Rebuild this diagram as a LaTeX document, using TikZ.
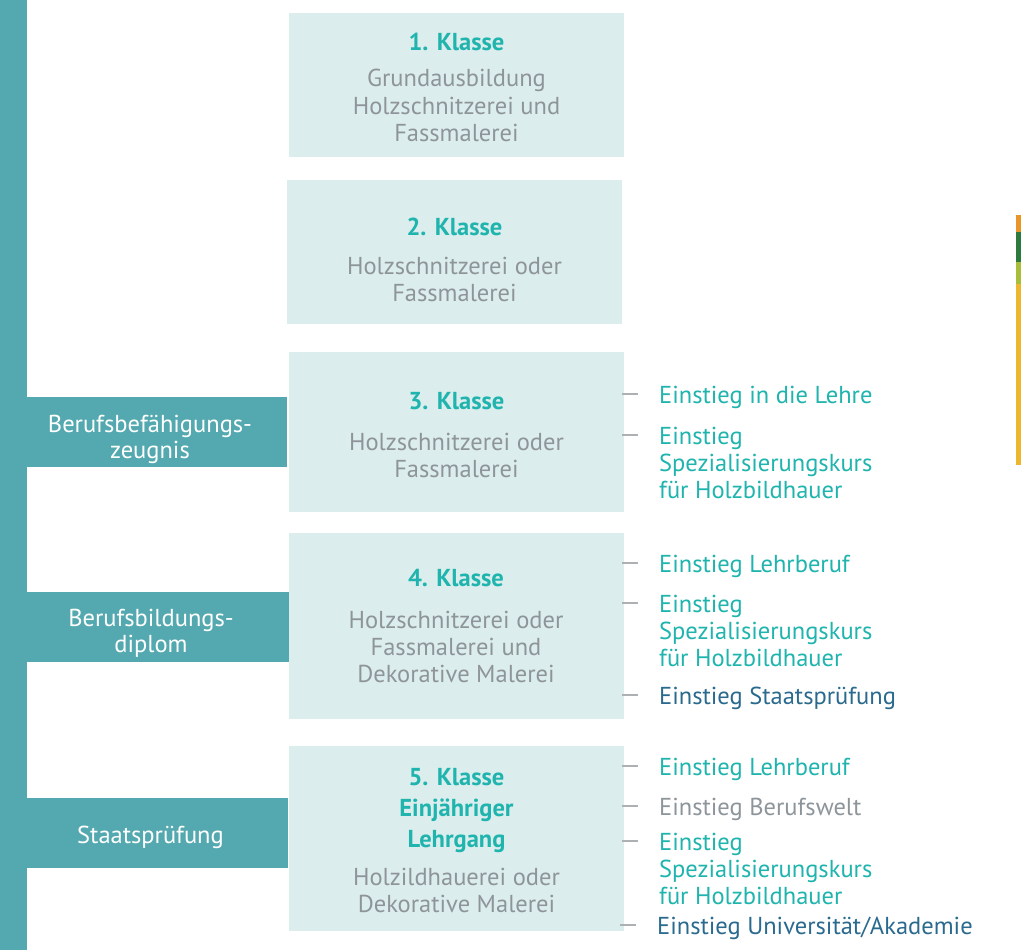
\documentclass[tikz,border=0pt]{standalone}
\usepackage{fontspec}
\setmainfont{PT Sans}
\usepackage{tikz}
\usetikzlibrary{calc,positioning}

\definecolor{balken}{HTML}{53A9AF}
\definecolor{kasten}{HTML}{DCEDED}
\definecolor{tuerkis}{HTML}{1FB4AD}
\definecolor{grau}{HTML}{8E959A}
\definecolor{dunkelblau}{HTML}{2A6A8E}
\definecolor{strichgrau}{HTML}{AEB1B3}
\definecolor{streifenA}{HTML}{E8962A}
\definecolor{streifenB}{HTML}{2E7A3E}
\definecolor{streifenC}{HTML}{A8BE3A}
\definecolor{streifenD}{HTML}{ECB72C}

\newcommand{\schrift}{\fontsize{24.5}{27}\selectfont}
\newcommand{\titel}[1]{\textbf{\textcolor{tuerkis}{#1}}}

\begin{document}
\begin{tikzpicture}[x=1pt,y=1pt,
    every node/.style={inner sep=0pt},
    klasse/.style={fill=kasten,minimum width=335},
    klassentext/.style={align=center,text=grau,font=\schrift},
    stufe/.style={fill=balken,minimum width=260,minimum height=70},
    stufentext/.style={align=center,text=white,font=\schrift},
    eintrag/.style={anchor=north west,align=left,text=tuerkis,font=\schrift},
    strich/.style={draw=strichgrau,line width=1.5pt}]

    \useasboundingbox (0,0) rectangle (1021,-950);
    \fill[white] (0,0) rectangle (1021,-950);

    % linker Balken
    \fill[balken] (0,0) rectangle (27,-950);

    % Klassen
    \node[klasse,minimum height=144] (k1) at (456.5,-85) {};
    \node[klasse,minimum height=144] (k2) at (454.5,-252) {};
    \node[klasse,minimum height=160] (k3) at (456.5,-432) {};
    \node[klasse,minimum height=186] (k4) at (456,-626) {};
    \node[klasse,minimum height=185] (k5) at (456.5,-838.5) {};

    \node[klassentext] (t1) at ([yshift=-2]k1.center)
        {\titel{1. Klasse}\\[9pt] Grundausbildung\\[1pt] Holzschnitzerei und\\ Fassmalerei};
    \node[klassentext] (t2) at ([yshift=-8]k2.center)
        {\titel{2. Klasse}\\[12pt] Holzschnitzerei oder\\ Fassmalerei};
    \node[klassentext] (t3) at ([yshift=-3.5]k3.center)
        {\titel{3. Klasse}\\[14pt] Holzschnitzerei oder\\ Fassmalerei};
    \node[klassentext] (t4) at (k4.center)
        {\titel{4. Klasse}\\[15pt] Holzschnitzerei oder\\ Fassmalerei und\\ Dekorative Malerei};
    \node[klassentext] (t5) at ([yshift=-2]k5.center)
        {\titel{5. Klasse}\\[4pt] \titel{Einjähriger}\\[4pt] \titel{Lehrgang}\\[11pt] Holzildhauerei oder\\ Dekorative Malerei};

    % Abschluesse
    \node[stufe] (s3) at (157,-432) {};
    \node[stufe,minimum width=262] (s4) at (158,-627) {};
    \node[stufe,minimum width=261] (s5) at (157.5,-833) {};

    \node[stufentext] (u3) at ([shift={(-7,-7)}]s3.center) {Berufsbefähigungs-\\[-1pt] zeugnis};
    \node[stufentext] (u4) at ([shift={(-7,-6)}]s4.center) {Berufsbildungs-\\[-1pt] diplom};
    \node[stufentext] (u5) at ([shift={(-7,-4)}]s5.center) {Staatsprüfung};

    % Einstiege
    \node[eintrag] (e31) at (659,-386) {Einstieg in die Lehre};
    \node[eintrag] (e32) at (659,-427) {Einstieg\\ Spezialisierungskurs\\ für Holzbildhauer};
    \node[eintrag] (e41) at (659,-555) {Einstieg Lehrberuf};
    \node[eintrag] (e42) at (659,-595) {Einstieg\\ Spezialisierungskurs\\ für Holzbildhauer};
    \node[eintrag,text=dunkelblau] (e43) at (659,-687) {Einstieg Staatsprüfung};
    \node[eintrag] (e51) at (659,-758) {Einstieg Lehrberuf};
    \node[eintrag,text=grau] (e52) at (659,-798) {Einstieg Berufswelt};
    \node[eintrag] (e53) at (659,-833) {Einstieg\\ Spezialisierungskurs\\ für Holzbildhauer};
    \node[eintrag,text=dunkelblau] (e54) at (657,-917) {Einstieg Universität/Akademie};

    \foreach \e in {e31,e32,e41,e42,e43,e51,e52,e53,e54}
        \draw[strich] ($(\e.north west)+(-37,-8)$) -- ++(16,0);

    % Farbstreifen rechts
    \fill[streifenA] (1016,-215) rectangle (1021,-232);
    \fill[streifenB] (1016,-232) rectangle (1021,-262);
    \fill[streifenC] (1016,-262) rectangle (1021,-284);
    \fill[streifenD] (1016,-284) rectangle (1021,-465);
\end{tikzpicture}
\end{document}
